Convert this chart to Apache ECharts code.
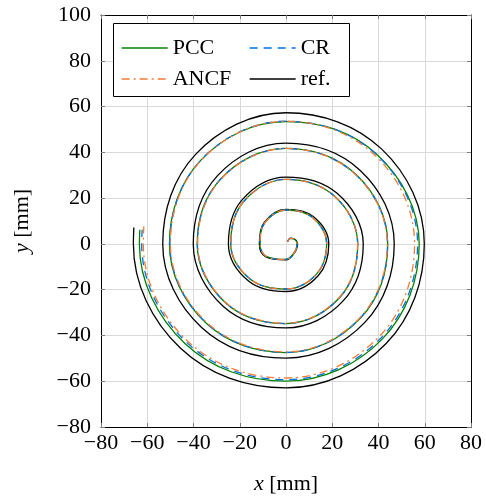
<!DOCTYPE html>
<html>
<head>
<meta charset="utf-8">
<script src="https://cdn.jsdelivr.net/npm/echarts@6/dist/echarts.min.js"></script>
<style>html,body{margin:0;padding:0;background:#fff;}#c{width:486px;height:500px;}</style>
</head>
<body>
<div id="c"></div>
<script>
// Axis ticks
var xTicks = [-80, -60, -40, -20, 0, 20, 40, 60, 80];
var yTicks = [-80, -60, -40, -20, 0, 20, 40, 60, 80, 100];

// Series names
var seriesNames = ['PCC', 'CR', 'ANCF', 'ref.'];

// Points [x, y] in mm (clockwise spiral from centre)
var pccPoints = [
  [0.6, 1.0], [2.0, 2.4], [4.0, 1.8], [4.8, 0], [3.3, -4.2], [0, -6.8], [-8.6, -5.4], [-11.2, 0],
  [-9.2, 9.2], [0, 14.8], [11.5, 11.5], [17.6, 0], [13.2, -13.2], [0, -19.7], [-15.4, -15.4], [-23.9, 0],
  [-18.4, 18.4], [0, 28.2], [20.9, 20.9], [31.0, 0], [23.3, -23.3], [0, -34.8], [-25.9, -25.9], [-38.4, 0],
  [-28.3, 28.3], [0, 41.7], [30.3, 30.3], [44.0, 0], [32.3, -32.3], [0, -47.5], [-34.6, -34.6], [-50.4, 0],
  [-36.7, 36.7], [0, 53.4], [39.2, 39.2], [57.6, 0], [41.6, -41.6], [0, -60.0], [-43.6, -43.6], [-63.4, 0],
  [-63.2, 6.2]
];
var crPoints = [
  [0.6, 1.0], [2.0, 2.4], [4.0, 1.8], [4.8, 0], [3.3, -4.2], [0, -6.8], [-8.6, -5.4], [-11.2, 0],
  [-9.2, 9.2], [0, 14.8], [11.5, 11.5], [17.6, 0], [13.2, -13.2], [0, -19.7], [-15.4, -15.4], [-23.9, 0],
  [-18.4, 18.4], [0, 28.2], [20.9, 20.9], [31.0, 0], [23.3, -23.3], [0, -34.8], [-25.9, -25.9], [-38.3, 0],
  [-28.3, 28.3], [0, 41.7], [30.2, 30.2], [43.9, 0], [32.2, -32.2], [0, -47.4], [-34.5, -34.5], [-50.2, 0],
  [-36.7, 36.7], [0, 53.6], [39.1, 39.1], [56.9, 0], [41.1, -41.1], [0, -59.3], [-43.0, -43.0], [-62.4, 0],
  [-62.2, 6.2]
];
var ancfPoints = [
  [0.6, 1.0], [2.0, 2.4], [4.0, 1.8], [4.8, 0], [3.3, -4.2], [0, -6.8], [-8.6, -5.4], [-11.2, 0],
  [-9.2, 9.2], [0, 14.8], [11.5, 11.5], [17.6, 0], [13.2, -13.2], [0, -19.7], [-15.4, -15.4], [-23.9, 0],
  [-18.4, 18.4], [0, 28.2], [20.9, 20.9], [31.0, 0], [23.2, -23.2], [0, -34.7], [-25.8, -25.8], [-38.2, 0],
  [-28.2, 28.2], [0, 41.7], [30.2, 30.2], [43.8, 0], [32.1, -32.1], [0, -47.2], [-34.3, -34.3], [-50.0, 0],
  [-36.6, 36.6], [0, 53.6], [38.6, 38.6], [55.6, 0], [40.4, -40.4], [0, -58.6], [-42.5, -42.5], [-61.7, 0],
  [-61.5, 7.6]
];
var refPoints = [
  [0.6, 1.0], [2.0, 2.5], [4.1, 1.8], [5.0, 0], [3.4, -4.3], [0, -7.0], [-8.8, -5.6], [-11.5, 0],
  [-9.4, 9.4], [0, 15.1], [11.9, 11.9], [18.5, 0], [13.9, -13.9], [0, -20.8], [-16.2, -16.2], [-24.9, 0],
  [-19.1, 19.1], [0, 29.2], [22.1, 22.1], [33.4, 0], [24.8, -24.8], [0, -36.7], [-27.2, -27.2], [-40.1, 0],
  [-29.7, 29.7], [0, 44.0], [32.1, 32.1], [46.8, 0], [34.2, -34.2], [0, -49.9], [-36.5, -36.5], [-53.3, 0],
  [-39.1, 39.1], [0, 57.3], [41.4, 41.4], [59.8, 0], [43.4, -43.4], [0, -62.9], [-45.6, -45.6], [-66.0, 0],
  [-65.8, 7.2]
];

var FONT = '"Liberation Serif", "DejaVu Serif", serif';
var FS = 22;
var LW = 1.3;
var minusFmt = function (v) { return String(v).replace('-', '\u2212'); };

var COLORS = {PCC: '#008000', CR: '#0070e0', ANCF: '#f47b35', 'ref.': '#000000'};
var DASHES = {PCC: 'solid', CR: [8, 6], ANCF: [8, 4, 2, 4], 'ref.': 'solid'};

var chart = echarts.init(document.getElementById('c'), null, {renderer: 'canvas'});

function xAx(pos, show) {
  return {
    type: 'value', position: pos, min: xTicks[0], max: xTicks[xTicks.length - 1], interval: 20,
    axisLine: {show: true, onZero: false, lineStyle: {color: '#000', width: 1}},
    axisTick: {show: true, inside: true, length: 4, lineStyle: {color: '#7f7f7f'}},
    axisLabel: {show: show, formatter: minusFmt, fontFamily: FONT, fontSize: FS, color: '#000', margin: 5},
    splitLine: {show: show, lineStyle: {color: '#d9d9d9', width: 1}},
    name: show ? '{i|x} [mm]' : '', nameLocation: 'middle', nameGap: 46,
    nameTextStyle: {fontFamily: FONT, fontSize: FS, color: '#000', rich: {i: {fontFamily: FONT, fontSize: FS, fontStyle: 'italic'}}}
  };
}
function yAx(pos, show) {
  return {
    type: 'value', position: pos, min: yTicks[0], max: yTicks[yTicks.length - 1], interval: 20,
    axisLine: {show: true, onZero: false, lineStyle: {color: '#000', width: 1}},
    axisTick: {show: true, inside: true, length: 4, lineStyle: {color: '#7f7f7f'}},
    axisLabel: {show: show, formatter: minusFmt, fontFamily: FONT, fontSize: FS, color: '#000', margin: 10},
    splitLine: {show: show, lineStyle: {color: '#d9d9d9', width: 1}},
    name: show ? '{i|y} [mm]' : '', nameLocation: 'middle', nameGap: 68, nameRotate: 90,
    nameTextStyle: {fontFamily: FONT, fontSize: FS, color: '#000', rich: {i: {fontFamily: FONT, fontSize: FS, fontStyle: 'italic'}}}
  };
}

function mkLegend(name, left, top) {
  return {
    data: [name], left: left, top: top, padding: 0, itemWidth: 46, itemHeight: 13,
    selectedMode: false, z: 20,
    itemStyle: {opacity: 0, borderWidth: 0},
    lineStyle: {color: COLORS[name], width: LW, type: DASHES[name], opacity: 1},
    textStyle: {fontFamily: FONT, fontSize: FS, color: '#000'}
  };
}

var SMOOTH = 0.375;
function mkSeries(name, data, z) {
  return {
    name: name, type: 'line', data: data, symbol: 'none', smooth: SMOOTH, z: z,
    lineStyle: {color: COLORS[name], width: LW, type: DASHES[name]},
    itemStyle: {color: COLORS[name]}
  };
}

chart.setOption({
  animation: false,
  backgroundColor: '#fff',
  grid: {left: 101, right: 15, top: 15, bottom: 68, containLabel: false},
  xAxis: [xAx('bottom', true), xAx('top', false)],
  yAxis: [yAx('left', true), yAx('right', false)],
  legend: [
    mkLegend(seriesNames[0], 121, 37),
    mkLegend(seriesNames[1], 249, 37),
    mkLegend(seriesNames[2], 121, 68),
    mkLegend(seriesNames[3], 249, 68)
  ],
  graphic: [{
    type: 'rect', left: 113, top: 23, z: 10,
    shape: {width: 236, height: 73},
    style: {fill: '#fff', stroke: '#000', lineWidth: 1}
  }],
  series: [
    mkSeries(seriesNames[3], refPoints, 2),
    mkSeries(seriesNames[0], pccPoints, 3),
    mkSeries(seriesNames[1], crPoints, 4),
    mkSeries(seriesNames[2], ancfPoints, 5)
  ]
});
</script>
</body>
</html>
